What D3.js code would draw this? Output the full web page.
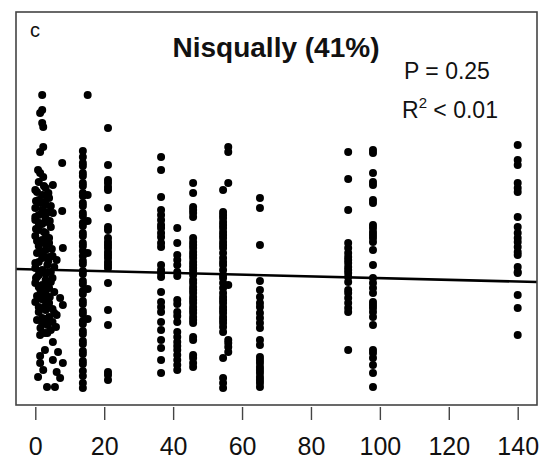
<!DOCTYPE html>
<html>
<head>
<meta charset="utf-8">
<script src="https://cdn.jsdelivr.net/npm/d3@7"></script>
<style>
  body { margin: 0; background: #fff; }
  svg { display: block; font-family: "Liberation Sans", Arial, sans-serif; }
</style>
</head>
<body>
<div id="chart"></div>
<script>
// panel text
const panelLabel = 'c';
const title = 'Nisqually (41%)';
const pText = 'P = 0.25';
const xTicks = [0, 20, 40, 60, 80, 100, 120, 140];

// fitted line (value = intercept + slope * x)
const lineIntercept = 33.88;
const lineSlope = -0.0215;

// sites with a single x value, each with its stack of y values
const columnX = [13.8, 15.2, 21.1, 36.5, 41.2, 45.8, 54.5, 56, 65.2, 90.8, 98, 140];
const columnY = [
  [63.5, 62, 60.5, 59.75, 58, 57.25, 55.5, 54.75, 53, 52.25, 50.5, 49.75, 48, 47.25, 45.5, 44.75, 43, 42.25,
   40.5, 39.75, 38.5, 37.25, 36, 35.25, 33.5, 32.75, 31, 30.25, 28.5, 27.75, 26, 25.25, 23.5, 22.75, 21,
   20.25, 18.5, 17.75, 16, 15.25, 13.5, 12.75, 11, 10.25, 8.5, 7.25, 5.5, 4.25],
  [77.5, 52.5, 46, 38, 29, 21.5],
  [69.25, 60, 56.25, 55.5, 54.5, 53.75, 49.25, 44.5, 43.75, 41.75, 40.75, 40, 39.25, 38.25, 37.5, 36.75,
   35.75, 35, 34.25, 30.5, 23.75, 20, 8.25, 7.5, 6.25],
  [62, 58.75, 52, 48.75, 47.5, 46.25, 45, 44.25, 43, 42, 40.5, 39.5, 35, 33.75, 33, 32, 28.25, 25.75,
   24.5, 23.25, 20.75, 18.75, 16.25, 14.25, 11.25, 8],
  [44.25, 40.5, 37.5, 36.25, 35, 33.25, 32.25, 26.25, 25.25, 23.25, 22.25, 20.75, 18.25, 17, 15.75,
   14.75, 13.75, 12.5, 11.25, 10, 8.75],
  [55.5, 53, 49.5, 48.75, 48, 47, 41.75, 40.75, 40, 39.25, 38.25, 37.5, 36.75, 35.75, 35, 34.25, 33.5,
   32.5, 31.25, 30.5, 29.5, 28.75, 28, 27, 26.25, 25.5, 24.5, 23.75, 23, 22, 21.25, 20.5, 17, 16.25,
   12.5, 11.75, 10.5, 9.5],
  [53.75, 48.25, 47.5, 46.75, 45.75, 45, 44.25, 43.25, 42.5, 41.75, 40.75, 40, 39.25, 38, 36.75, 35.75,
   35, 33.75, 32.5, 31.75, 30.5, 29.25, 28, 27, 26.25, 25.5, 24.5, 23.75, 23, 22, 21.25, 20.5, 19.5,
   18.25, 11.75, 6.75, 5.5, 4.25],
  [64.5, 63.25, 55.5, 30, 16.25, 15.5, 14.5, 13.25],
  [51.75, 49.25, 40, 31, 28.75, 27, 25.5, 24.5, 23, 21.75, 20.5, 19.25, 16.25, 15, 12, 11.25, 10.5, 9.5,
   8.75, 8, 7, 6.25, 5.5, 4.5],
  [63.25, 56.5, 48.75, 40.5, 39.25, 38, 37, 36.25, 35.5, 34.5, 33.75, 33, 32, 30.75, 28.75, 28, 26.75,
   25.5, 24.25, 23.25, 13.75],
  [63.75, 63, 58, 55.75, 55, 51.25, 50.5, 45, 44.25, 43.25, 42.5, 41.75, 40.75, 38.75, 35, 31.75, 30.5,
   29.25, 28, 25.75, 25, 24.25, 23.25, 22, 20, 13.75, 13, 11.75, 10, 8, 4.5],
  [65, 61.25, 60, 55.5, 54.25, 53.25, 47, 44.5, 43, 41.75, 40.75, 39.5, 38.25, 37.5, 34.5, 33.25, 33,
   27.5, 24.25, 17.5]
];

// the crowded group of sites near x = 0..8
const clusterX = [
  2, 2, 1.4, 2, 2.3, 2.3, 1.4, 7.8, 0.8, 1.4, 2.3, 5.1,
  1, 3, 0, 2, 4, 1, 3, 0, 2, 4, 1, 3, 0, 2, 4.5, 1, 3, 0, 2, 4, 1, 7.8, 5.1,
  8, 3, 0.5, 5, 2, 6.2, 1, 3.5, 0, 2, 4.5, 1, 5, 3, 0, 2, 4, 1.5, 3, 0.5, 7.2, 2.5, 4, 8, 1, 3, 5.5,
  6.2, 2, 0.5, 5, 3.5, 1.5, 4.5,
  2.5, 0.5, 3.5, 1.5, 4.5, 2, 0, 3.5, 1, 2.5, 4, 0.5, 3, 2, 4, 0, 5.5, 3, 0.5, 4.5, 1, 5.5, 2, 0, 3,
  5, 1, 4, 2, 6, 3.5,
  3.8, 0.2, 2.8, 4.2, 1.2, 3.2, 0.2, 4.8, 2.2, 1.2, 3.8, 0.2, 2.8, 4.2, 1.8, 3.2,
  1.4, 2.8, 5.1, 2.8, 6.6, 1.4, 5.1, 1.4, 8, 2.3, 6.2, 0.8, 3.4, 5.7, 7.2
];
const clusterY = [
  77.5, 73.75, 73, 70.5, 69.5, 64.5, 63.25, 60.5, 58.75, 58, 57, 55,
  55.75, 54.25, 53.75, 52.5, 51.75, 51.25, 50, 49.25, 48.75, 48.25, 47.5, 46.75, 46.25, 45.25, 44.5,
  43.75, 43, 42.25, 41.25, 40.5, 39.75, 48.5, 48,
  39.25, 38.75, 38, 37.25, 36.75, 36.25, 35.75, 35, 34.25, 33.75, 33.25, 32.5, 31.75, 31.25, 30.5, 30,
  29.25, 28.75, 28, 27.25, 26.75, 26.25, 25.5, 25, 24.5, 23.75, 23, 22.5, 21.75, 21.25, 20.75, 20,
  19.25, 18.75,
  54.75, 53.25, 52, 50.5, 49.75, 48, 47, 45.75, 44.75, 43.25, 41.75, 41, 40.25, 38.25, 37, 35.5, 34.5,
  32.75, 32, 30.75, 29.5, 28.25, 27.5, 25.75, 24.75, 24, 23.25, 22, 20.5, 19.5, 18,
  53, 51, 50.75, 46, 45.5, 42, 44, 39, 37.75, 33, 36, 31.75, 29.75, 27, 26.5, 21.5,
  17.5, 18, 15.75, 13.75, 13.25, 12.25, 11.25, 10.5, 10.5, 8.75, 8.25, 7, 4.5, 4.5, 6.75
];

const width = 544, height = 462;
const box = { left: 16, right: 537, top: 12, bottom: 405 };

const points = [];
columnX.forEach((x, i) => columnY[i].forEach(y => points.push({ x, y })));
clusterX.forEach((x, i) => points.push({ x, y: clusterY[i] }));

const x = d3.scaleLinear().domain([-5.6, 145.6]).range([box.left, box.right]);
const y = d3.scaleLinear().domain([0, 98.25]).range([box.bottom, box.top]);

const svg = d3.select('#chart').append('svg')
  .attr('width', width)
  .attr('height', height);

svg.append('rect')
  .attr('width', width)
  .attr('height', height)
  .attr('fill', '#ffffff');

// dots
svg.append('g')
  .selectAll('circle')
  .data(points)
  .enter()
  .append('circle')
  .attr('cx', d => x(d.x))
  .attr('cy', d => y(d.y))
  .attr('r', 4)
  .attr('fill', '#000');

// regression line
const xd = x.domain();
svg.append('line')
  .attr('x1', x(xd[0]))
  .attr('y1', y(lineIntercept + lineSlope * xd[0]))
  .attr('x2', x(xd[1]))
  .attr('y2', y(lineIntercept + lineSlope * xd[1]))
  .attr('stroke', '#000')
  .attr('stroke-width', 2.6);

// frame
svg.append('rect')
  .attr('x', box.left)
  .attr('y', box.top)
  .attr('width', box.right - box.left)
  .attr('height', box.bottom - box.top)
  .attr('fill', 'none')
  .attr('stroke', '#444')
  .attr('stroke-width', 1.6);

// x axis
const axis = svg.append('g')
  .attr('transform', `translate(0,${box.bottom + 2})`)
  .call(d3.axisBottom(x).tickValues(xTicks).tickSize(13).tickSizeOuter(0));
axis.select('.domain').remove();
axis.selectAll('.tick line').attr('stroke', '#444').attr('stroke-width', 1.4);
axis.selectAll('.tick text')
  .attr('y', 48)
  .attr('dy', 0)
  .attr('fill', '#111')
  .style('font-size', '25px')
  .style('font-family', '"Liberation Sans", Arial, sans-serif');

// texts
svg.append('text')
  .attr('x', 30)
  .attr('y', 37)
  .style('font-size', '20px')
  .attr('fill', '#111')
  .text(panelLabel);

svg.append('text')
  .attr('x', 276)
  .attr('y', 57)
  .attr('text-anchor', 'middle')
  .style('font-size', '28px')
  .style('font-weight', 'bold')
  .attr('fill', '#111')
  .text(title);

svg.append('text')
  .attr('x', 404)
  .attr('y', 79)
  .style('font-size', '23px')
  .attr('fill', '#111')
  .text(pText);

const r2 = svg.append('text')
  .attr('x', 402)
  .attr('y', 118)
  .style('font-size', '23px')
  .attr('fill', '#111');
r2.append('tspan').text('R');
r2.append('tspan').attr('dy', -10).style('font-size', '15px').text('2');
r2.append('tspan').attr('dy', 10).text(' < 0.01');
</script>
</body>
</html>
